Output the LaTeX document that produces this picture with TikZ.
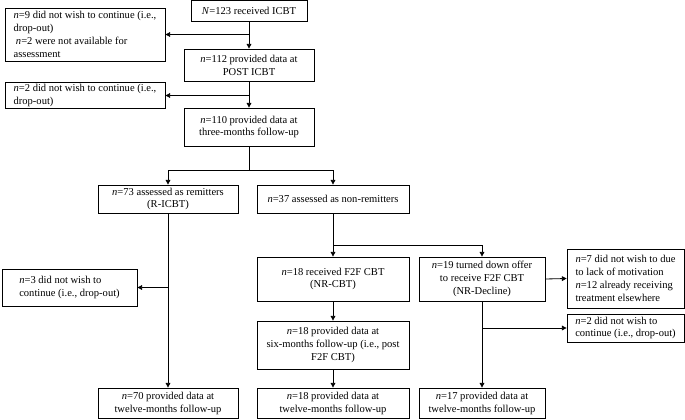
\documentclass[tikz,border=0pt]{standalone}
\usepackage{fontspec}
\setmainfont{Liberation Serif}
\usetikzlibrary{positioning, arrows.meta}
\tikzstyle{chart} = [x = 0.03cm, y = -0.03cm]
\tikzstyle{boxStyle} = [draw, rectangle, line width = 0.7pt, inner ysep = 1.5pt, inner xsep = 2pt, font = \fontsize{9}{11}\selectfont]
\tikzstyle{centerStyle} = [boxStyle, align = center]
\tikzstyle{noteStyle} = [boxStyle, align = left]
\tikzstyle{flowLine} = [line width = 0.7pt]
\tikzstyle{flowArrow} = [flowLine, -{Triangle[length = 4pt, width = 4pt]}]
\newcommand{\pxToPt}{0.85358}
\newcommand{\flowBox}[6]{
  \pgfmathsetmacro{\boxWidth}{(#4 - #2) * \pxToPt}
  \pgfmathsetmacro{\boxHeight}{(#5 - #3) * \pxToPt}
  \node [centerStyle, minimum width = \boxWidth pt, minimum height = \boxHeight pt] (#1) at ({(#2 + #4) / 2}, {(#3 + #5) / 2}) {#6};
}
\newcommand{\noteBox}[6]{
  \pgfmathsetmacro{\boxWidth}{(#4 - #2) * \pxToPt}
  \pgfmathsetmacro{\boxHeight}{(#5 - #3) * \pxToPt}
  \node [noteStyle, minimum width = \boxWidth pt, minimum height = \boxHeight pt] (#1) at ({(#2 + #4) / 2}, {(#3 + #5) / 2}) {#6};
}
\begin{document}
\begin{tikzpicture}[chart]
  \useasboundingbox (0,0) rectangle (685,419);
  % boxes
  \flowBox{received}{191}{0.5}{307}{21}{\textit{N}=123 received ICBT}
  \noteBox{dropPre}{5}{8}{165}{61}{\textit{n}=9 did not wish to continue (i.e.,\\drop-out)\\\hspace{2pt}\textit{n}=2 were not available for\\assessment}
  \flowBox{post}{184}{49}{314}{81}{\textit{n}=112 provided data at\\POST ICBT}
  \noteBox{dropPost}{5}{83}{165}{108}{\textit{n}=2 did not wish to continue (i.e.,\\drop-out)}
  \flowBox{threeMonths}{184}{108}{314}{146}{\textit{n}=110 provided data at\\three-months follow-up}
  \flowBox{remitters}{98}{185}{238}{213}{\textit{n}=73 assessed as remitters\\(R-ICBT)}
  \flowBox{nonRemitters}{257}{185}{409}{213}{\textit{n}=37 assessed as non-remitters}
  \noteBox{dropRemit}{2}{269}{137}{306}{\textit{n}=3 did not wish to\\continue (i.e., drop-out)}
  \flowBox{faceToFace}{257}{257}{409}{301}{\textit{n}=18 received F2F CBT\\(NR-CBT)}
  \flowBox{decline}{419}{257}{545}{301}{\textit{n}=19 turned down offer\\to receive F2F CBT\\(NR-Decline)}
  \noteBox{declineReasons}{567}{249}{684}{308}{\textit{n}=7 did not wish to due\\to lack of motivation\\\textit{n}=12 already receiving\\treatment elsewhere}
  \flowBox{sixMonths}{257}{321}{409}{369}{\textit{n}=18 provided data at\\six-months follow-up (i.e., post\\F2F CBT)}
  \noteBox{dropDecline}{567}{314}{684}{342}{\textit{n}=2 did not wish to\\continue (i.e., drop-out)}
  \flowBox{twelveRemit}{98}{388}{238}{418.5}{\textit{n}=70 provided data at\\twelve-months follow-up}
  \flowBox{twelveCBT}{257}{388}{409}{418.5}{\textit{n}=18 provided data at\\twelve-months follow-up}
  \flowBox{twelveDecline}{419}{388}{545}{418.5}{\textit{n}=17 provided data at\\twelve-months follow-up}
  % connectors
  \coordinate (leftLane) at (168,170);
  \coordinate (rightLane) at (333,170);
  \coordinate (nrSplit) at (333,245);
  \draw [flowArrow] (received.south) -- (post.north);
  \draw [flowArrow] (received.south |- dropPre.east) -- (dropPre.east);
  \draw [flowArrow] (post.south) -- (threeMonths.north);
  \draw [flowArrow] (post.south |- dropPost.east) -- (dropPost.east);
  \draw [flowLine] (threeMonths.south) -- (threeMonths.south |- leftLane);
  \draw [flowLine] (leftLane) -- (rightLane);
  \draw [flowArrow] (leftLane) -- (remitters.north);
  \draw [flowArrow] (rightLane) -- (nonRemitters.north);
  \draw [flowArrow] (remitters.south) -- (twelveRemit.north);
  \draw [flowArrow] (remitters.south |- dropRemit.east) -- (dropRemit.east);
  \draw [flowArrow] (nonRemitters.south) -- (faceToFace.north);
  \draw [flowArrow] (nonRemitters.south |- nrSplit) -| (decline.north);
  \draw [flowArrow] (faceToFace.south) -- (sixMonths.north);
  \draw [flowArrow] (sixMonths.south) -- (twelveCBT.north);
  \draw [flowArrow] (decline.east) -- (declineReasons.west);
  \draw [flowArrow] (decline.south) -- (twelveDecline.north);
  \draw [flowArrow] (decline.south |- dropDecline.west) -- (dropDecline.west);
\end{tikzpicture}
\end{document}
